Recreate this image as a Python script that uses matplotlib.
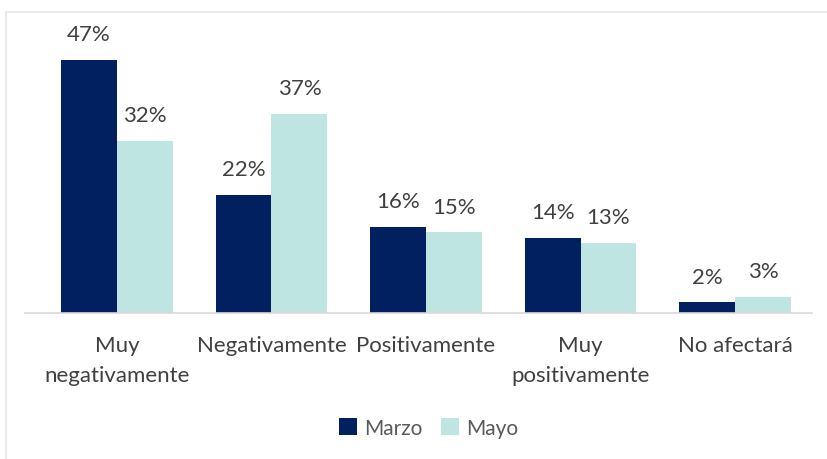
import matplotlib.pyplot as plt
import numpy as np
from matplotlib.patches import Rectangle

plt.rcParams['font.family'] = ['Lato', 'DejaVu Sans']

categorias = ['Muy\nnegativamente', 'Negativamente', 'Positivamente', 'Muy\npositivamente', 'No afectará']
marzo = [47, 22, 16, 14, 2]
mayo = [32, 37, 15, 13, 3]
series = ['Marzo', 'Mayo']

azul = '#002060'
celeste = '#BFE5E3'
gris_txt = '#404040'

fig = plt.figure(figsize=(8.27, 4.6), dpi=100)
ax = fig.add_axes([25 / 827, 146 / 460, 787 / 827, 301 / 460])

x = np.arange(len(categorias))
w = 0.362
b1 = ax.bar(x - w / 2, marzo, w, color=azul, label=series[0])
b2 = ax.bar(x + w / 2, mayo, w, color=celeste, label=series[1])

for barras, vals in [(b1, marzo), (b2, mayo)]:
    for b, v in zip(barras, vals):
        ax.annotate(f'{v}%', (b.get_x() + b.get_width() / 2, v), xytext=(0, 18.5),
                    textcoords='offset points', ha='center', va='center',
                    fontsize=16, color=gris_txt)

ax.set_xlim(-0.595, 4.498)
ax.set_ylim(0, 55.9)
ax.set_yticks([])
ax.set_xticks(x)
ax.set_xticklabels(categorias, fontsize=16, color=gris_txt, linespacing=1.6, va='top')
ax.tick_params(axis='x', length=0, pad=16)
for s in ['top', 'right', 'left']:
    ax.spines[s].set_visible(False)
ax.spines['bottom'].set_color('#D9D9D9')
ax.spines['bottom'].set_linewidth(1.2)

leg = fig.legend(loc='center', bbox_to_anchor=(429 / 827, 1 - 429 / 460), ncol=2, frameon=False,
                 fontsize=15, handlelength=0.85, handleheight=0.85, handletextpad=0.35,
                 columnspacing=0.9)
for t in leg.get_texts():
    t.set_color('#595959')

# marco del gráfico
fig.patches.append(Rectangle((6 / 827, -0.1), 1, 1 - 13 / 460 + 0.1, transform=fig.transFigure,
                             fill=False, edgecolor='#E6E6E6', linewidth=1.2))

fig.savefig('out.png', dpi=100)
